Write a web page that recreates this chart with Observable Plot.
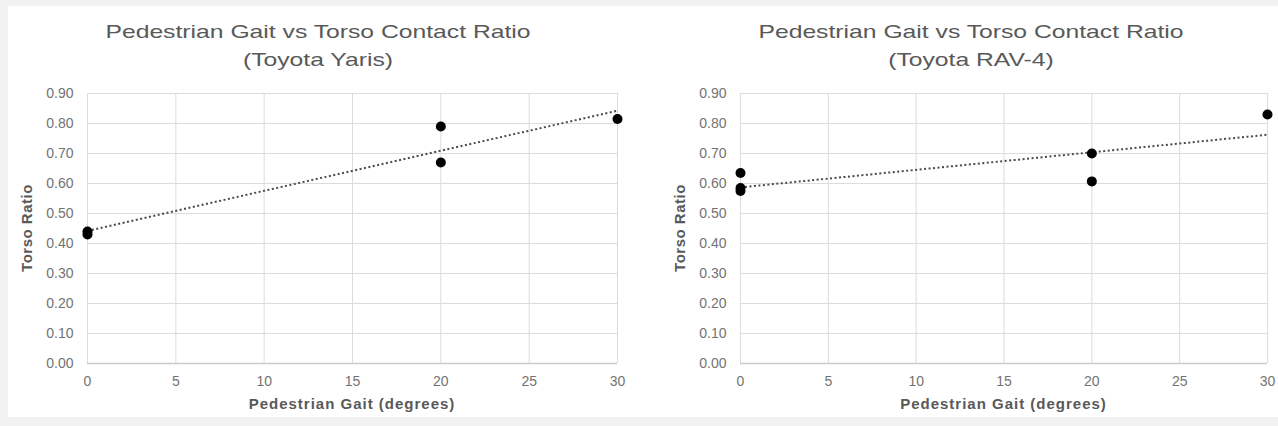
<!DOCTYPE html>
<html>
<head>
<meta charset="utf-8">
<script src="https://cdn.jsdelivr.net/npm/d3@7"></script>
<script src="https://cdn.jsdelivr.net/npm/@observablehq/plot@0.6"></script>
<style>
  html, body { margin: 0; padding: 0; }
  body { width: 1278px; height: 426px; background: #f2f2f2; overflow: hidden; font-family: "Liberation Sans", Arial, sans-serif; }
  #root { position: relative; width: 1278px; height: 426px; }
  #panel { position: absolute; left: 8px; top: 6px; width: 1270px; height: 411px; background: #fff; }
  .title { position: absolute; width: 600px; text-align: center; font-size: 19px; line-height: 28px; color: #595959; transform: scaleX(1.3); transform-origin: center; white-space: nowrap; }
  .xtitle { position: absolute; width: 400px; text-align: center; font-size: 15px; line-height: 15px; font-weight: bold; color: #595959; letter-spacing: 1px; white-space: nowrap; }
  .ytitle { position: absolute; width: 120px; text-align: center; font-size: 15px; line-height: 16px; font-weight: bold; color: #595959; letter-spacing: 0.5px; transform: rotate(-90deg); transform-origin: center; white-space: nowrap; }
</style>
</head>
<body>
<div id="root">
  <div id="panel"></div>
</div>
<script>
// ---- data ----
const titleLine1 = "Pedestrian Gait vs Torso Contact Ratio";
const yarisSubtitle = "(Toyota Yaris)";
const rav4Subtitle = "(Toyota RAV-4)";
const xAxisTitle = "Pedestrian Gait (degrees)";
const yAxisTitle = "Torso Ratio";

const xTicks = [0, 5, 10, 15, 20, 25, 30];
const yTicks = [0, 0.1, 0.2, 0.3, 0.4, 0.5, 0.6, 0.7, 0.8, 0.9];

const yarisGait = [0, 0, 20, 20, 30];
const yarisRatio = [0.44, 0.43, 0.79, 0.67, 0.815];

const rav4Gait = [0, 0, 0, 20, 20, 30];
const rav4Ratio = [0.635, 0.585, 0.575, 0.70, 0.607, 0.83];

// ---- drawing ----
const root = document.getElementById("root");

function makeChart(gait, ratio, opts) {
  const data = gait.map((g, i) => ({gait: g, ratio: ratio[i]}));
  const svg = Plot.plot({
    width: opts.width,
    height: 347,
    marginTop: 23,
    marginBottom: 54,
    marginLeft: opts.marginLeft,
    marginRight: opts.marginRight,
    style: {background: "transparent", overflow: "visible", fontFamily: "Liberation Sans, Arial, sans-serif"},
    x: {domain: [0, 30], ticks: xTicks, label: null},
    y: {domain: [0, 0.9], ticks: yTicks, label: null},
    marks: [
      Plot.gridX(xTicks, {stroke: "#dcdcdc", strokeOpacity: 1, strokeWidth: 1}),
      Plot.gridY(yTicks, {stroke: "#dcdcdc", strokeOpacity: 1, strokeWidth: 1}),
      Plot.ruleY([0], {stroke: "#cccccc", strokeWidth: 1.3}),
      Plot.axisX(xTicks, {tickSize: 0, tickPadding: 13, fontSize: 14, fill: "#737373", letterSpacing: 0.6, label: null}),
      Plot.axisY(yTicks, {tickSize: 0, tickPadding: 14, fontSize: 14, fill: "#737373", letterSpacing: 0.6, tickFormat: d3.format(".2f"), label: null}),
      Plot.linearRegressionY(data, {x: "gait", y: "ratio", ci: 0, stroke: "#4a4a4a", strokeWidth: 2, strokeDasharray: "2,2.5", strokeLinecap: "butt"}),
      Plot.dot(data, {x: "gait", y: "ratio", r: 5, fill: "#000", stroke: "none"})
    ]
  });
  svg.style.left = opts.left + "px";
  svg.style.top = "70px";
  svg.style.position = "absolute";
  root.appendChild(svg);

  const t = document.createElement("div");
  t.className = "title";
  t.style.left = (opts.titleCenter - 300) + "px";
  t.style.top = "18px";
  const l1 = document.createElement("div"); l1.textContent = titleLine1;
  const l2 = document.createElement("div"); l2.textContent = opts.subtitle;
  t.appendChild(l1); t.appendChild(l2);
  root.appendChild(t);

  const plotLeft = opts.left + opts.marginLeft;
  const plotRight = opts.left + opts.width - opts.marginRight;
  const xt = document.createElement("div");
  xt.className = "xtitle";
  xt.textContent = xAxisTitle;
  xt.style.left = ((plotLeft + plotRight) / 2 - 200) + "px";
  xt.style.top = "396px";
  root.appendChild(xt);

  const yt = document.createElement("div");
  yt.className = "ytitle";
  yt.textContent = yAxisTitle;
  yt.style.left = (plotLeft - 60 - 60) + "px";
  yt.style.top = (228 - 8) + "px";
  root.appendChild(yt);
}

makeChart(yarisGait, yarisRatio, {left: 0, width: 640, marginLeft: 87, marginRight: 23, titleCenter: 318, subtitle: yarisSubtitle});
makeChart(rav4Gait, rav4Ratio, {left: 640, width: 638, marginLeft: 100, marginRight: 11, titleCenter: 971, subtitle: rav4Subtitle});
</script>
</body>
</html>
